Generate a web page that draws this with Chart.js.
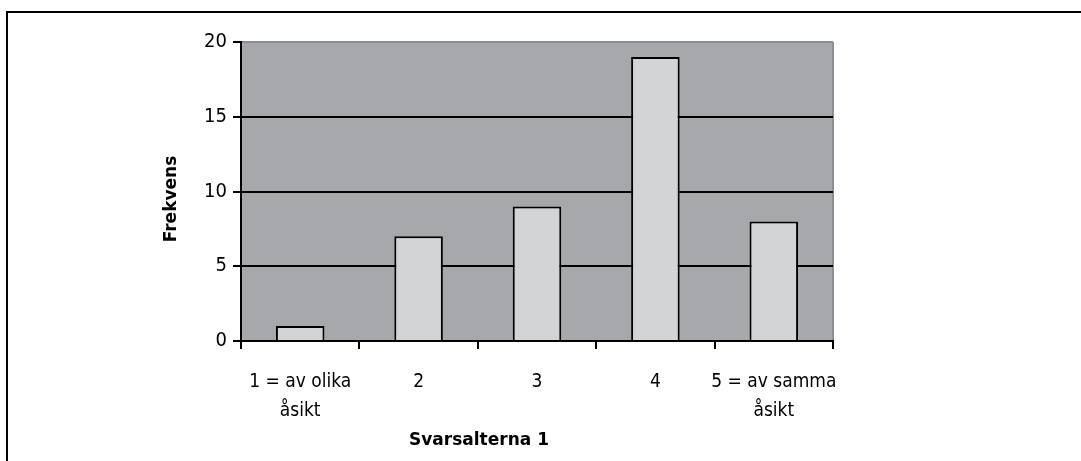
<!DOCTYPE html>
<html>
<head>
<meta charset="utf-8">
<script src="https://cdn.jsdelivr.net/npm/chart.js@4.4.1/dist/chart.umd.min.js"></script>
<style>
  body { margin: 0; background: #fff; overflow: hidden; }
  #frame { position: absolute; left: 6px; top: 11px; width: 1200px; height: 600px; border-left: 2px solid #000; border-top: 2px solid #000; }
  #wrap { position: absolute; left: 0; top: 0; width: 1081px; height: 461px; }
</style>
</head>
<body>
<div id="frame"></div>
<div id="wrap"><canvas id="barChart"></canvas></div>
<script>
// Svarsalterna 1 - frequency per answer option
const categories = [['1 = av olika', 'åsikt'], '2', '3', '4', ['5 = av samma', 'åsikt']];
const frekvens = [1, 7, 9, 19, 8];
const yTicks = [0, 5, 10, 15, 20];
const xTitle = 'Svarsalterna 1';
const yTitle = 'Frekvens';

const labelFont = "'Liberation Sans Narrow', 'DejaVu Sans Condensed', sans-serif";
const titleFont = "'DejaVu Sans', sans-serif";

// grey plot background with darker right edge
const plotBg = {
    id: 'plotBg',
    beforeDraw(chart) {
        const a = chart.chartArea;
        const ctx = chart.ctx;
        ctx.save();
        ctx.fillStyle = '#a7a8ab';
        ctx.fillRect(a.left, a.top, a.right - a.left, a.bottom - a.top);
        ctx.strokeStyle = '#8a8f95';
        ctx.lineWidth = 2;
        ctx.beginPath();
        ctx.moveTo(a.right, a.top);
        ctx.lineTo(a.right, a.bottom);
        ctx.stroke();
        ctx.restore();
    }
};

// axis titles, placed like in the original (not centred on the plot)
const axisTitles = {
    id: 'axisTitles',
    afterDraw(chart) {
        const ctx = chart.ctx;
        ctx.save();
        ctx.fillStyle = '#000';
        ctx.font = 'bold 17px ' + titleFont;
        ctx.textAlign = 'center';
        ctx.textBaseline = 'middle';
        ctx.fillText(xTitle, 479, 441);
        ctx.translate(172, 199);
        ctx.rotate(-Math.PI / 2);
        ctx.fillText(yTitle, 0, 0);
        ctx.restore();
    }
};

window.onload = function() {
    var ctx = document.getElementById('barChart').getContext('2d');
    var chart = new Chart(ctx, {
        type: 'bar',
        data: {
            labels: categories,
            datasets: [{
                label: 'Frekvens',
                data: frekvens,
                backgroundColor: '#d3d4d6',
                borderColor: '#000',
                borderWidth: 2,
                barPercentage: 0.41,
                categoryPercentage: 1
            }]
        },
        options: {
            responsive: true,
            maintainAspectRatio: false,
            animation: false,
            layout: { padding: { left: 159, top: 42, right: 248, bottom: 4 } },
            plugins: { legend: { display: false }, tooltip: { enabled: false } },
            scales: {
                x: {
                    grid: { display: true, drawOnChartArea: false, drawTicks: true, tickLength: 8, color: '#000', lineWidth: 2, offset: true },
                    border: { display: true, color: '#000', width: 2 },
                    ticks: { color: '#000', font: { family: labelFont, size: 19, lineHeight: 1.5 }, padding: 19, maxRotation: 0, autoSkip: false },
                    afterFit: function(s) { s.height = 116; }
                },
                y: {
                    min: 0,
                    max: 20,
                    afterBuildTicks: function(s) { s.ticks = yTicks.map(v => ({ value: v })); },
                    grid: {
                        tickLength: 8,
                        lineWidth: 2,
                        color: function(c) { return c.tick && c.tick.value === 20 ? '#8a8f95' : '#000'; },
                        tickColor: '#000'
                    },
                    border: { display: true, color: '#000', width: 2 },
                    ticks: { color: '#000', font: { family: labelFont, size: 20 }, padding: 6 },
                    afterFit: function(s) { s.width = 82; }
                }
            }
        },
        plugins: [plotBg, axisTitles]
    });
};
</script>
</body>
</html>
